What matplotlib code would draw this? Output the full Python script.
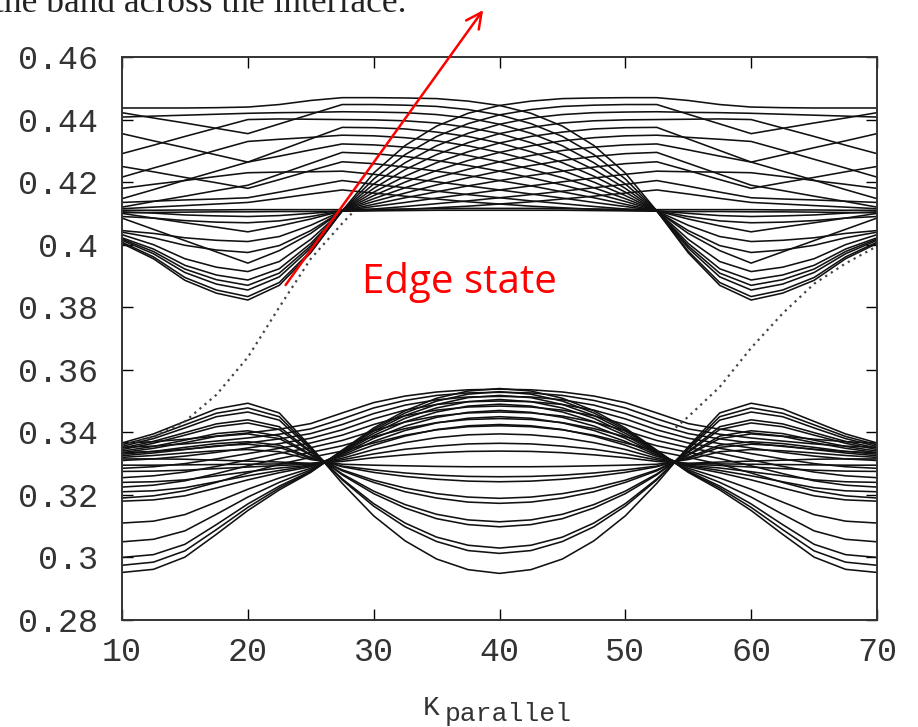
import matplotlib
matplotlib.use("Agg")
import matplotlib.pyplot as plt
import numpy as np

# k points of the plot
k_full = np.arange(10, 70.1, 2.5)
# the first 13 of them (left half, up to k = 40) for bands symmetric about k = 40
k_half = k_full[:13]

# upper bands, read left to right; each one is also drawn mirrored about k = 40
upper_fan = [
    [.4004, .3955, .3886, .3845, .3823, .3870, .3974, .4108, .4229, .4317, .4379, .4420, .4445,
     .4459, .4467, .4469, .4470, .4470, .4461, .4448, .4440, .4438, .4437, .4437, .4437],
    [.4008, .3961, .3895, .3855, .3834, .3879, .3979, .4108, .4210, .4288, .4346, .4387, .4415,
     .4432, .4442, .4446, .4448, .4448, .4417, .4386, .4355, .4372, .4389, .4405, .4422],
    [.4014, .3971, .3911, .3874, .3855, .3897, .3989, .4108, .4194, .4262, .4316, .4356, .4385,
     .4405, .4416, .4422, .4424, .4425, .4423, .4422, .4420, .4417, .4414, .4411, .4408],
    [.4018, .3978, .3922, .3888, .3870, .3909, .3996, .4108, .4180, .4240, .4288, .4326, .4355,
     .4375, .4389, .4396, .4399, .4400, .4401, .4402, .4400, .4373, .4346, .4318, .4291],
    [.4022, .3986, .3934, .3903, .3887, .3923, .4004, .4108, .4168, .4219, .4262, .4297, .4325,
     .4346, .4360, .4370, .4374, .4375, .4338, .4301, .4264, .4287, .4310, .4332, .4355],
    [.4032, .4000, .3955, .3928, .3914, .3946, .4017, .4108, .4157, .4200, .4237, .4269, .4295,
     .4316, .4332, .4342, .4348, .4350, .4343, .4337, .4330, .4302, .4273, .4245, .4216],
    [.4085, .4049, .4013, .3977, .3941, .3981, .4036, .4108, .4147, .4182, .4214, .4241, .4265,
     .4285, .4301, .4312, .4319, .4322, .4303, .4283, .4264, .4235, .4206, .4176, .4147],
    [.4040, .4022, .3998, .3983, .3975, .3997, .4045, .4108, .4138, .4165, .4191, .4214, .4235,
     .4253, .4269, .4282, .4291, .4295, .4260, .4225, .4190, .4173, .4155, .4138, .4120],
    [.4045, .4036, .4022, .4014, .4010, .4026, .4062, .4108, .4129, .4150, .4169, .4188, .4205,
     .4221, .4235, .4248, .4259, .4265, .4237, .4208, .4180, .4198, .4215, .4233, .4250],
    [.4100, .4085, .4070, .4056, .4041, .4060, .4082, .4108, .4122, .4135, .4149, .4162, .4175,
     .4188, .4201, .4213, .4225, .4235, .4233, .4232, .4230, .4218, .4205, .4193, .4180],
    [.4090, .4085, .4077, .4072, .4070, .4076, .4090, .4108, .4114, .4122, .4131, .4140, .4150,
     .4160, .4171, .4182, .4193, .4205, .4187, .4168, .4150, .4146, .4143, .4139, .4135],
    [.4105, .4101, .4095, .4092, .4090, .4093, .4100, .4108, .4110, .4113, .4118, .4123, .4130,
     .4137, .4146, .4155, .4165, .4175, .4162, .4148, .4135, .4130, .4125, .4120, .4115],
]
# flat lines at the bottom of the upper band (left half, symmetric)
upper_flat = [
    [.4102, .4103, .4104, .4105, .4105, .4106, .4106, .4107, .4108, .4109, .4110, .4110, .4110],
    [.4110, .4110, .4111, .4111, .4112, .4112, .4112, .4112, .4113, .4114, .4115, .4116, .4116],
]

# lower bands (left half, symmetric): bump near k=20, minimum at k=40
lower_bump = [
    [.3366, .3395, .3435, .3475, .3493, .3462, .3354, .3237, .3133, .3053, .2995, .2961, .2949],
    [.3360, .3387, .3424, .3461, .3478, .3450, .3350, .3248, .3164, .3098, .3051, .3022, .3013],
    [.3355, .3380, .3414, .3450, .3465, .3439, .3346, .3251, .3172, .3110, .3065, .3039, .3030],
    [.3350, .3371, .3399, .3427, .3440, .3418, .3339, .3264, .3204, .3158, .3124, .3105, .3098],
    [.3345, .3365, .3391, .3418, .3430, .3409, .3336, .3267, .3212, .3169, .3138, .3120, .3114],
    [.3340, .3355, .3375, .3396, .3405, .3388, .3329, .3277, .3240, .3210, .3190, .3177, .3173],
    [.3335, .3349, .3367, .3387, .3395, .3380, .3327, .3280, .3247, .3222, .3204, .3193, .3189],
    [.3330, .3339, .3352, .3364, .3370, .3359, .3320, .3290, .3272, .3259, .3250, .3244, .3242],
    [.3325, .3334, .3345, .3357, .3362, .3352, .3317, .3292, .3280, .3270, .3263, .3259, .3258],
    [.3320, .3326, .3334, .3341, .3345, .3338, .3313, .3298, .3295, .3293, .3291, .3290, .3290],
]
# lower bands (left half, symmetric): rising from the bottom, maximum at k=40
lower_rise = [
    [.2952, .2962, .3001, .3074, .3150, .3216, .3272, .3343, .3414, .3469, .3509, .3532, .3540],
    [.2975, .2985, .3021, .3089, .3160, .3222, .3274, .3341, .3409, .3462, .3500, .3522, .3530],
    [.3000, .3009, .3042, .3105, .3171, .3228, .3276, .3339, .3404, .3454, .3489, .3511, .3518],
    [.3050, .3058, .3085, .3138, .3193, .3240, .3280, .3337, .3397, .3445, .3478, .3498, .3505],
    [.3110, .3116, .3137, .3177, .3218, .3254, .3285, .3334, .3390, .3434, .3465, .3484, .3490],
    [.3180, .3184, .3197, .3222, .3248, .3271, .3290, .3331, .3381, .3420, .3448, .3464, .3470],
    [.3210, .3213, .3223, .3242, .3261, .3278, .3293, .3327, .3371, .3406, .3430, .3445, .3450],
    [.3240, .3242, .3248, .3261, .3274, .3286, .3295, .3323, .3359, .3388, .3409, .3421, .3425],
    [.3275, .3276, .3279, .3284, .3289, .3294, .3298, .3317, .3345, .3367, .3383, .3392, .3395],
    [.3295, .3295, .3296, .3297, .3298, .3299, .3300, .3312, .3331, .3346, .3356, .3363, .3365],
    [.3315, .3315, .3314, .3311, .3308, .3305, .3301, .3307, .3319, .3328, .3335, .3339, .3340],
]
lower_mid = [
    [.3366, .3370, .3378, .3388, .3398, .3410, .3428, .3462, .3495, .3516, .3529, .3536, .3538],
    [.3352, .3356, .3363, .3372, .3382, .3394, .3411, .3443, .3478, .3502, .3518, .3526, .3528],
    [.3335, .3339, .3346, .3355, .3366, .3379, .3396, .3425, .3460, .3487, .3504, .3513, .3515],
    [.3310, .3315, .3324, .3336, .3350, .3364, .3381, .3408, .3443, .3471, .3489, .3498, .3500],
    [.3285, .3290, .3300, .3315, .3332, .3349, .3366, .3391, .3425, .3453, .3471, .3481, .3484],
    [.3255, .3261, .3273, .3291, .3312, .3333, .3351, .3374, .3405, .3433, .3452, .3462, .3465],
    [.3225, .3231, .3245, .3268, .3293, .3316, .3336, .3357, .3386, .3412, .3431, .3441, .3444],
    [.3190, .3197, .3213, .3240, .3270, .3298, .3320, .3340, .3366, .3391, .3408, .3418, .3421],
]

# edge states (dotted)
edge_left_k = [10, 12.5, 15, 17.5, 20, 22.5, 25, 27.5, 28.5]
edge_left_e = [.3360, .3385, .3435, .3520, .3640, .3800, .3955, .4068, .4110]
edge_right_k = [54, 55, 57.5, 60, 62.5, 65, 67.5, 70]
edge_right_e = [.3415, .3450, .3545, .3670, .3780, .3875, .3940, .3995]

xticks = [10, 20, 30, 40, 50, 60, 70]
yticks = [0.28, 0.30, 0.32, 0.34, 0.36, 0.38, 0.40, 0.42, 0.44, 0.46]
ylabels = ["0.28", "0.3", "0.32", "0.34", "0.36", "0.38", "0.4", "0.42", "0.44", "0.46"]


def mirror(v):
    v = np.asarray(v)
    return np.concatenate([v, v[-2::-1]])


W, H = 918, 727
fig = plt.figure(figsize=(W / 100, H / 100), dpi=100)
ax = fig.add_axes([122 / W, 1 - 620 / H, (877 - 122) / W, (620 - 57) / H])

line = dict(color="#111111", lw=1.15)
for band in upper_fan:
    ax.plot(k_full, band, **line)
    ax.plot(80 - k_full, band, **line)
for group in [upper_flat, lower_bump, lower_rise, lower_mid]:
    for band in group:
        ax.plot(k_full, mirror(band), **line)

ax.plot(edge_left_k, edge_left_e, color="#444444", lw=1.6, ls=(0, (1, 2.0)))
ax.plot(edge_right_k, edge_right_e, color="#444444", lw=1.6, ls=(0, (1, 2.0)))

ax.set_xlim(10, 70)
ax.set_ylim(0.28, 0.46)
mono = "Liberation Mono"
ax.set_xticks(xticks)
ax.set_xticklabels([str(t) for t in xticks], family=mono, fontsize=24, color="#333333")
ax.set_yticks(yticks)
ax.set_yticklabels(ylabels, family=mono, fontsize=24, color="#333333")
ax.tick_params(direction="in", length=8, width=1, top=True, right=True)
ax.tick_params(axis="x", pad=12)
ax.tick_params(axis="y", pad=17)
for s in ax.spines.values():
    s.set_linewidth(1.4)
    s.set_color("#333333")

# x label with subscript, gnuplot style
fig.text(423 / W, 1 - 715 / H, "K", family=mono, fontsize=20, color="#333333", va="baseline")
fig.text(445 / W, 1 - 721 / H, "parallel", family=mono, fontsize=19, color="#333333", va="baseline")

# cut-off line of text from the page above
fig.text(-0.006, 1 - 12 / H, "the band across the interface.", family="Liberation Serif",
         fontsize=25.5, color="#222222", va="baseline")

ax.annotate("", xy=(38.7, 0.475), xytext=(23.0, 0.3871), annotation_clip=False,
            arrowprops=dict(arrowstyle="->", color="red", lw=1.8, mutation_scale=28,
                            shrinkA=0, shrinkB=0))
ax.text(29.07, 0.3845, "Edge state", color="red", fontsize=29, family="Open Sans", va="baseline")

fig.savefig("out.png", dpi=100)
